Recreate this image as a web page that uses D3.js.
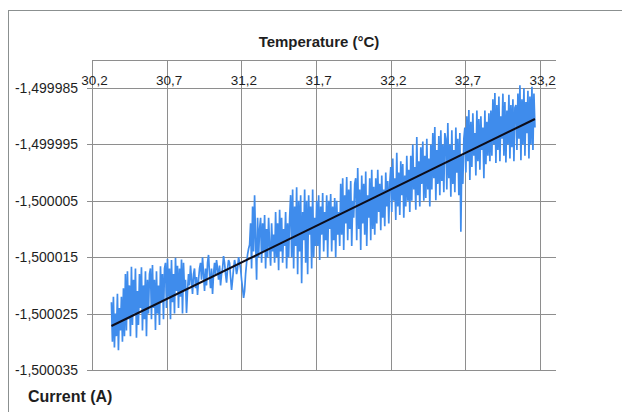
<!DOCTYPE html>
<html>
<head>
<meta charset="utf-8">
<script src="https://cdn.jsdelivr.net/npm/d3@7"></script>
<style>
  html, body { margin: 0; padding: 0; background: #fff; }
  svg { display: block; }
  text { font-family: "Liberation Sans", Arial, sans-serif; fill: #1e1e1e; }
</style>
</head>
<body>
<svg id="chart" width="622" height="412"></svg>
<script>
// Axis ticks
const tempTicks = [30.2, 30.7, 31.2, 31.7, 32.2, 32.7, 33.2];
const currentTicks = [-1.499985, -1.499995, -1.500005, -1.500015, -1.500025, -1.500035];

// Measured current in µA, sampled evenly between the first and last temperature (°C)
const tempRange = [30.33, 33.165];
const currentMicroA = [
  -1500023, -1500030, -1500022, -1500031, -1500025, -1500029, -1500021.5, -1500031.5, -1500024, -1500028, -1500022, -1500030, -1500020.5, -1500029,
  -1500018, -1500028, -1500017.5, -1500026, -1500020, -1500029, -1500016.7, -1500027, -1500019, -1500025, -1500017, -1500029.3, -1500021, -1500027, -1500018, -1500024, -1500016.8, -1500028, -1500020, -1500026, -1500017.5, -1500029, -1500019, -1500025, -1500018,
  -1500017, -1500026, -1500016.4, -1500024, -1500019, -1500027.9, -1500017.5, -1500025, -1500020, -1500027, -1500016.6, -1500023, -1500018, -1500026, -1500017,
  -1500016, -1500024, -1500015.3, -1500022, -1500017, -1500026, -1500015.5, -1500023, -1500018, -1500025, -1500015.1, -1500021, -1500016.5, -1500024, -1500017, -1500022, -1500015.4, -1500025, -1500016, -1500021,
  -1500019, -1500024.9, -1500021, -1500018, -1500020, -1500016.5, -1500019, -1500021.5, -1500018, -1500017, -1500020.5, -1500018.5, -1500021.7, -1500019, -1500017,
  -1500016, -1500019, -1500015, -1500018, -1500021, -1500017, -1500020, -1500016, -1500014.6, -1500018, -1500020.5, -1500017, -1500021.5, -1500018, -1500016,
  -1500018, -1500015.5, -1500017, -1500019, -1500016.5, -1500020, -1500018, -1500017, -1500014.8, -1500016, -1500018, -1500019.5, -1500017, -1500015.5, -1500016, -1500018.5, -1500020.8, -1500019, -1500017, -1500015.5, -1500016.5, -1500018, -1500017, -1500015, -1500016,
  -1500017, -1500019, -1500020.5, -1500022.2, -1500021, -1500018, -1500016, -1500014.5, -1500013.5, -1500012.8,
  -1500009, -1500017, -1500006, -1500014, -1500004, -1500012, -1500019, -1500008, -1500015, -1500010,
  -1500008, -1500016, -1500009, -1500014, -1500007.5, -1500017, -1500010, -1500015, -1500008, -1500013, -1500016.5, -1500009, -1500014, -1500011, -1500016,
  -1500007, -1500015, -1500009, -1500017.3, -1500006.6, -1500014, -1500008, -1500016, -1500010, -1500013, -1500007, -1500017, -1500009, -1500015, -1500008,
  -1500004, -1500015, -1500003, -1500017, -1500006, -1500013, -1500002.6, -1500018, -1500005, -1500014, -1500004, -1500019.6, -1500007, -1500012, -1500003, -1500016, -1500005, -1500018, -1500004, -1500011, -1500006, -1500017, -1500003, -1500015, -1500008, -1500013,
  -1500005, -1500013, -1500004, -1500015.5, -1500006, -1500011, -1500003.6, -1500014, -1500007, -1500012, -1500004, -1500015, -1500005, -1500010, -1500003.8, -1500014, -1500006, -1500012, -1500004.5, -1500015, -1500005, -1500011, -1500007, -1500013,
  -1500002, -1500011, -1500001, -1500013.7, -1500004, -1500009, -1500000.8, -1500012, -1500003, -1500010, -1500001.5, -1500013, -1500005, -1500008, -1500002,
  -1500001, -1500012, -1499999.2, -1500010, -1500003, -1500013.7, -1500000.5, -1500009, -1500002, -1500011, -1499999.8, -1500013, -1500004, -1500008, -1500001, -1500012, -1499999.5, -1500010, -1500002.5, -1500011,
  -1500001, -1500009, -1499999.5, -1500007, -1500002, -1500010.2, -1500000.5, -1500008, -1500003, -1500009.5, -1500000, -1500006, -1500001.5, -1500009, -1500002,
  -1499999, -1500007, -1499997.5, -1500005, -1500001, -1500008.4, -1499996.5, -1500006, -1500000, -1500007.5, -1499998, -1500004, -1499998.5, -1500008, -1500000.5, -1500006, -1499997, -1500005, -1499999.5, -1500007,
  -1499997, -1500005, -1499995, -1500003, -1499999, -1500006.6, -1499993.7, -1500004, -1499998, -1500006, -1499995.5, -1500002, -1499994.5, -1500005, -1499997, -1500004.5, -1499994, -1500003, -1499997.5, -1500006,
  -1499995, -1500003, -1499993, -1500001, -1499991.9, -1500004.9, -1499996, -1500002, -1499993.5, -1500004, -1499992.5, -1500001.5, -1499995, -1500003.5, -1499993,
  -1499994, -1500003, -1499991.2, -1500001, -1499995, -1500004.3, -1499992.5, -1500002, -1499996, -1500003.5, -1499992, -1500000, -1499994, -1500004, -1499993, -1500010.5, -1499997, -1500002, -1499994,
  -1499992, -1500000, -1499990, -1499998, -1499988.9, -1500001.3, -1499991, -1499999, -1499989.5, -1499997, -1499993, -1500000.5, -1499989, -1499998, -1499990.5, -1499999.5, -1499990, -1499996, -1499992, -1500001, -1499989, -1499998.5, -1499991, -1499997, -1499989.5, -1499998,
  -1499989, -1499997, -1499987, -1499995, -1499985.9, -1499998.3, -1499988, -1499996, -1499986.5, -1499998, -1499990, -1499994, -1499986, -1499997, -1499987.5, -1499998.2, -1499989, -1499995, -1499986.2, -1499997.5, -1499988, -1499995.5, -1499987, -1499998, -1499988.5,
  -1499988, -1499996, -1499986, -1499994, -1499984.5, -1499997.8, -1499987, -1499995, -1499985, -1499997, -1499987.5, -1499993, -1499985.5, -1499997.5, -1499986.5, -1499995, -1499984.8, -1499996, -1499986, -1499992
];

// Linear trend line end points (°C, A)
const trendTemp = [30.33, 33.165];
const trendCurrent = [-1.5000272, -1.4999905];

const svg = d3.select("#chart");
const plotLeft = 92, plotRight = 556, plotTop = 88, plotBottom = 370, gridTop = 60;

const locale = d3.formatLocale({ decimal: ",", thousands: ".", grouping: [3], currency: ["", ""], minus: "-" });
const fmtY = locale.format(".6f");
const fmtX = locale.format(".1f");

const x = d3.scaleLinear().domain([30.2, 33.306]).range([plotLeft, plotRight]);
const y = d3.scaleLinear().domain([-1.500035, -1.499985]).range([plotBottom, plotTop]);

// Outer chart frame
svg.append("rect")
  .attr("x", 8.5).attr("y", 10.5).attr("width", 700).attr("height", 500)
  .attr("fill", "none").attr("stroke", "#8b9090").attr("stroke-width", 1);

const gridColor = "#8e8e8e";
const grid = svg.append("g").attr("stroke", gridColor).attr("stroke-width", 1).attr("shape-rendering", "crispEdges");

// Horizontal gridlines (with short outside ticks)
grid.selectAll("line.h").data(currentTicks).join("line")
  .attr("class", "h")
  .attr("x1", plotLeft - 5).attr("x2", plotRight)
  .attr("y1", d => Math.round(y(d)) + 0.5).attr("y2", d => Math.round(y(d)) + 0.5);

// Vertical gridlines
grid.selectAll("line.v").data(tempTicks).join("line")
  .attr("class", "v")
  .attr("x1", d => Math.round(x(d)) + 0.5).attr("x2", d => Math.round(x(d)) + 0.5)
  .attr("y1", gridTop).attr("y2", plotBottom);

// Top border line above the temperature labels
grid.append("line")
  .attr("x1", plotLeft).attr("x2", plotRight)
  .attr("y1", gridTop + 0.5).attr("y2", gridTop + 0.5);

// Y axis labels
const yAxis = svg.append("g").attr("transform", `translate(${plotLeft},0)`)
  .call(d3.axisLeft(y).tickValues(currentTicks).tickFormat(fmtY).tickSize(0).tickPadding(14));
yAxis.select(".domain").remove();
yAxis.selectAll("text").attr("font-size", 14).attr("font-family", "Liberation Sans, Arial, sans-serif").attr("fill", "#1e1e1e");

// X axis labels (top)
const xAxis = svg.append("g").attr("transform", `translate(0,${plotTop})`)
  .call(d3.axisTop(x).tickValues(tempTicks).tickFormat(fmtX).tickSize(0).tickPadding(3));
xAxis.select(".domain").remove();
xAxis.selectAll("text").attr("font-size", 13.5).attr("dx", 2).attr("font-family", "Liberation Sans, Arial, sans-serif").attr("fill", "#1e1e1e");

// Measured series
const step = (tempRange[1] - tempRange[0]) / (currentMicroA.length - 1);
const series = currentMicroA.map((c, i) => ({ t: tempRange[0] + i * step, c: c / 1e6 }));
const line = d3.line().x(d => x(d.t)).y(d => y(d.c));

svg.append("path")
  .datum(series)
  .attr("d", line)
  .attr("fill", "none")
  .attr("stroke", "#3f8cec")
  .attr("stroke-width", 1.7)
  .attr("stroke-linejoin", "miter")
  .attr("stroke-miterlimit", 2);

// Trend line
svg.append("path")
  .datum(trendTemp.map((t, i) => ({ t, c: trendCurrent[i] })))
  .attr("d", line)
  .attr("fill", "none")
  .attr("stroke", "#0d0d1a")
  .attr("stroke-width", 2);

// Titles
svg.append("text")
  .attr("x", 319).attr("y", 47)
  .attr("text-anchor", "middle")
  .attr("font-size", 15).attr("font-weight", "bold")
  .text("Temperature (°C)");

svg.append("text")
  .attr("x", 28).attr("y", 402)
  .attr("font-size", 16).attr("font-weight", "bold")
  .text("Current (A)");
</script>
</body>
</html>
